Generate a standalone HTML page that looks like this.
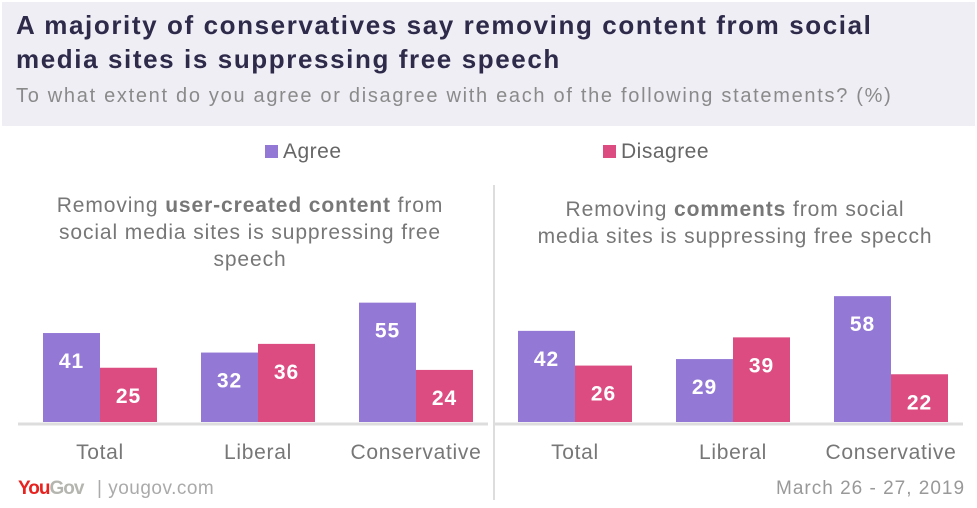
<!DOCTYPE html>
<html><head><meta charset="utf-8">
<style>
body{margin:0;width:977px;height:508px;background:#fff;font-family:"Liberation Sans",sans-serif;overflow:hidden;position:relative}
.hdr{position:absolute;left:2px;top:2px;width:973px;height:124px;background:#efeef5}
.t{position:absolute;left:16px;top:8px;font-size:26px;font-weight:bold;color:#2e2a4a;line-height:34px;letter-spacing:1.6px;white-space:nowrap}
.s{position:absolute;left:16px;top:85px;font-size:20px;color:#8a8a8a;letter-spacing:1.7px;white-space:nowrap}
.lg{position:absolute;top:140px;font-size:21px;color:#666;letter-spacing:0.5px}
.sw{display:inline-block;width:13px;height:13px;margin-right:5px}
.pt{position:absolute;text-align:center;font-size:21px;color:#777;line-height:27px;letter-spacing:0.9px}
.foot{position:absolute;top:478px;font-size:19px}
</style></head><body>
<div class="hdr"></div>
<div class="t">A majority of conservatives say removing content from social<br>media sites is suppressing free speech</div>
<div class="s">To what extent do you agree or disagree with each of the following statements? (%)</div>
<div class="lg" style="left:265px"><span class="sw" style="background:#9378d6"></span>Agree</div>
<div class="lg" style="left:603px"><span class="sw" style="background:#dc4c80"></span>Disagree</div>
<div class="pt" style="left:20px;width:460px;top:192px">Removing <b>user-created content</b> from<br>social media sites is suppressing free<br>speech</div>
<div class="pt" style="left:500px;width:470px;top:196px">Removing <b>comments</b> from social<br>media sites is suppressing free specch</div>
<svg id="ch" width="977" height="508" style="position:absolute;left:0;top:0"></svg>
<div class="foot" style="left:18px;color:#e8221f;font-weight:bold;letter-spacing:-1px">You<span style="color:#b5b5b0">Gov</span></div>
<div class="foot" style="left:97px;color:#aaa;letter-spacing:0.5px">| yougov.com</div>
<div class="foot" style="left:776px;color:#999;letter-spacing:1px">March 26 - 27, 2019</div>
<script>
const categories=["Total","Liberal","Conservative"];
const leftAgree=[41,32,55];
const leftDisagree=[25,36,24];
const rightAgree=[42,29,58];
const rightDisagree=[26,39,22];
const svg=document.getElementById('ch');
const NS='http://www.w3.org/2000/svg';
const base=422,scale=2.17,bw=57;
function y(v){return base-v*scale;}
function mk(t,a){const e=document.createElementNS(NS,t);for(const k in a)e.setAttribute(k,a[k]);svg.appendChild(e);return e;}
function panel(x0,ag,di,side){
  const l=mk('line',{x1:x0-25,x2:x0+445,y1:base+2,y2:base+2,stroke:'#ddd','stroke-width':3});
  
  
  categories.forEach((c,i)=>{
    const cx=x0+i*158;
    [[ag[i],'#9378d6','agree',cx],[di[i],'#dc4c80','disagree',cx+bw]].forEach(([v,col,s,x])=>{
      const r=mk('rect',{x:x,y:y(v),width:bw,height:v*scale,fill:col});
      
      
      const t=mk('text',{x:x+bw/2,y:y(v)+35,'text-anchor':'middle',fill:'#fff','font-size':21,'font-weight':'bold','font-family':'Liberation Sans,sans-serif','letter-spacing':1});
      t.textContent=v;
      
      
    });
    const lb=mk('text',{x:cx+bw,y:459,'text-anchor':'middle',fill:'#777','font-size':21,'font-family':'Liberation Sans,sans-serif','letter-spacing':0.7});
    lb.textContent=c;
    
    
  });
}
panel(43,leftAgree,leftDisagree,'left');
panel(518,rightAgree,rightDisagree,'right');
const d=mk('line',{x1:494,x2:494,y1:185,y2:500,stroke:'#ddd','stroke-width':2});


</script>
</body></html>
